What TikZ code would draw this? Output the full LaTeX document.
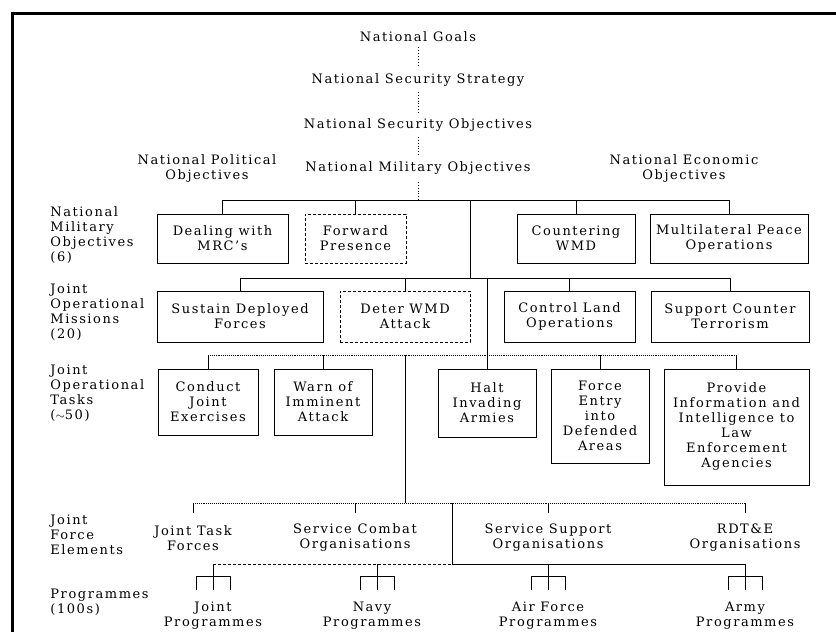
\documentclass[tikz,border=0pt]{standalone}
\usepackage{fontspec}
\setmainfont{DejaVu Serif}[LetterSpace=12]
\begin{document}
\begin{tikzpicture}[x=1pt,y=-1pt,line width=0.9pt,
        every node/.style={font=\fontsize{13}{15}\selectfont},
        box/.style={draw,align=center,inner sep=1pt},
        dbox/.style={box,densely dashed},
        txt/.style={align=center,inner sep=1pt},
        side/.style={align=left,anchor=west,inner sep=0pt}]
    \useasboundingbox (0,0) rectangle (836,632);
    \draw[line width=3pt] (12,632) -- (12,13) -- (836,13) ;
    % national chain
    \node[txt] (goals) at (418,37) {National Goals};
    \node[txt] (strat) at (418,80) {National Security Strategy};
    \node[txt] (secobj) at (418,125) {National Security Objectives};
    \node[txt] (milobj) at (418,168) {National Military Objectives};
    \node[txt] (polobj) at (207,169) {National Political\\Objectives};
    \node[txt] (ecoobj) at (684,169) {National Economic\\Objectives};
    \draw[dotted,shorten <=4pt,shorten >=5pt] (goals) -- (strat) ;
    \draw[dotted,shorten <=4pt,shorten >=5pt] (strat) -- (secobj) ;
    \draw[dotted,shorten <=4pt,shorten >=5pt] (secobj) -- (milobj) ;
    % level labels
    \node[side] (lnmo) at (50,235) {National\\Military\\Objectives\\(6)};
    \node[side] (ljom) at (50,312) {Joint\\Operational\\Missions\\(20)};
    \node[side] (ljot) at (50,393) {Joint\\Operational\\Tasks\\($\sim$50)};
    \node[side] (ljfe) at (50,535) {Joint\\Force\\Elements};
    \node[side] (lprg) at (50,602) {Programmes\\(100s)};
    % military objectives
    \node[box,minimum width=131pt,minimum height=49pt] (mrc) at (222.5,238.5) {Dealing with\\MRC's};
    \node[dbox,minimum width=101pt,minimum height=49pt] (fwd) at (355.5,238.5) {Forward\\Presence};
    \node[box,minimum width=118pt,minimum height=49pt] (wmd) at (576,238.5) {Countering\\WMD};
    \node[box,minimum width=158pt,minimum height=49pt] (peace) at (729,238.5) {Multilateral Peace\\Operations};
    % missions
    \node[box,minimum width=166pt,minimum height=51pt] (sustain) at (240,316.5) {Sustain Deployed\\Forces};
    \node[dbox,minimum width=130pt,minimum height=51pt] (deter) at (405,316.5) {Deter WMD\\Attack};
    \node[box,minimum width=131pt,minimum height=51pt] (land) at (569.5,316.5) {Control Land\\Operations};
    \node[box,minimum width=158pt,minimum height=51pt] (terror) at (730,316.5) {Support Counter\\Terrorism};
    % tasks
    \node[box,minimum width=100pt,minimum height=66pt] (exer) at (208,402) {Conduct\\Joint\\Exercises};
    \node[box,minimum width=98pt,minimum height=66pt] (warn) at (323,402) {Warn of\\Imminent\\Attack};
    \node[box,minimum width=98pt,minimum height=68pt] (halt) at (487,403) {Halt\\Invading\\Armies};
    \node[box,minimum width=98pt,minimum height=94pt] (entry) at (600,416) {Force\\Entry\\into\\Defended\\Areas};
    \node[box,minimum width=145pt,minimum height=116pt] (intel) at (736.5,427) {Provide\\Information and\\Intelligence to\\Law\\Enforcement\\Agencies};
    % force elements and programmes
    \node[txt] (jtf) at (193,538) {Joint Task\\Forces};
    \node[txt] (combat) at (355,538) {Service Combat\\Organisations};
    \node[txt] (support) at (548,538) {Service Support\\Organisations};
    \node[txt] (rdte) at (745,538) {RDT\&E\\Organisations};
    \node[txt] (jprog) at (213,616) {Joint\\Programmes};
    \node[txt] (nprog) at (372,616) {Navy\\Programmes};
    \node[txt] (afprog) at (548,616) {Air Force\\Programmes};
    \node[txt] (armprog) at (745,616) {Army\\Programmes};
    % connectors
    \coordinate (nmo) at (418,200);
    \coordinate (jom) at (470,278);
    \coordinate (jot) at (405,355);
    \coordinate (jfe) at (405,503);
    \coordinate (prg) at (452,564);
    \draw[dotted,shorten <=6pt] (milobj) -- (nmo) ;
    \draw (mrc.north) |- (nmo -| peace.north) -- (peace.north) ;
    \draw (fwd.north) -- (fwd.north |- nmo) ;
    \draw (wmd.north) -- (wmd.north |- nmo) ;
    \draw (jom |- nmo) -- (jom) ;
    \draw (sustain.north) |- (jom -| terror.north) -- (terror.north) ;
    \draw (deter.north) -- (deter.north |- jom) ;
    \draw (land.north) -- (land.north |- jom) ;
    \draw (halt.north |- jom) -- (halt.north) ;
    \draw[densely dotted] (exer.north |- jot) -- (jot -| intel.north) ;
    \foreach \t in {exer,warn,entry,intel}
        \draw (\t.north) -- (\t.north |- jot) ;
    \draw (jot) -- (jfe) ;
    \draw[densely dotted] (jtf.north |- jfe) -- (rdte.north |- jfe) ;
    \foreach \t in {jtf,combat,support,rdte}
        \draw (\t.north |- jfe) -- ++(0,10) ;
    \draw (prg |- jfe) -- (prg) -- (armprog.north |- prg) ;
    \draw[densely dashed] (jprog.north |- prg) -- (prg) ;
    \foreach \cx in {213,377,548,745} {
        \draw (\cx,564) -- (\cx,590) ;
        \draw (\cx-17,590) |- (\cx+17,576) -- (\cx+17,590) ;
    }
\end{tikzpicture}
\end{document}
